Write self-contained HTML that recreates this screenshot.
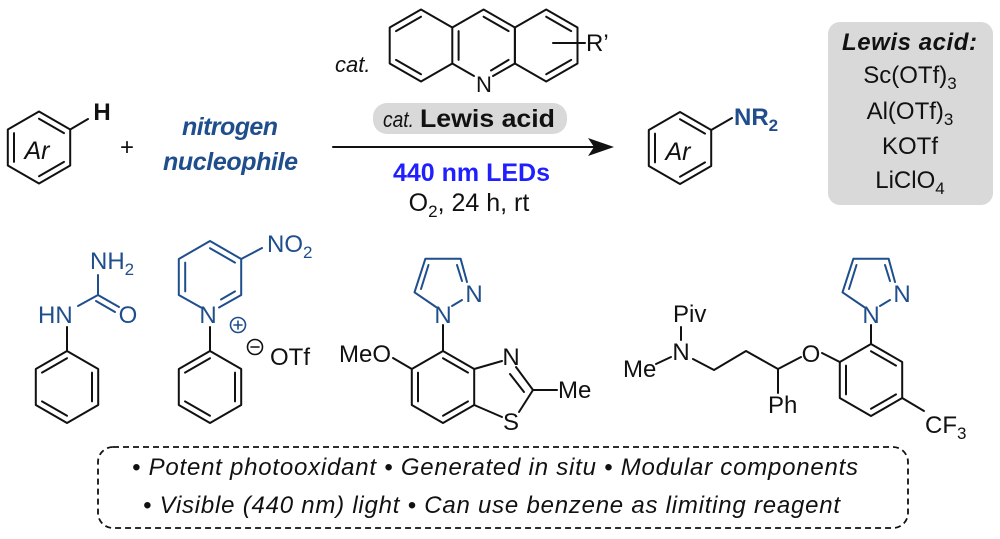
<!DOCTYPE html>
<html><head><meta charset="utf-8"><style>
html,body{margin:0;padding:0;background:#fff;}
svg{display:block;}
text{font-family:"Liberation Sans",Arial,sans-serif;}
</style></head><body>
<svg width="1000" height="539" viewBox="0 0 1000 539" xmlns="http://www.w3.org/2000/svg">
<g stroke="#111" stroke-width="2" fill="none" stroke-linecap="round" stroke-linejoin="round">
<!-- Reactant Ar ring -->
<polygon points="39,111.5 70.2,129.5 70.2,165.5 39,183.5 7.8,165.5 7.8,129.5"/>
<line x1="39" y1="118.7" x2="64" y2="133.1"/>
<line x1="64" y1="161.9" x2="39" y2="176.3"/>
<line x1="14" y1="161.9" x2="14" y2="133.1"/>
<line x1="70.2" y1="129.5" x2="88" y2="119"/>
<!-- Product ring -->
<polygon points="680,112 711.2,130 711.2,166 680,184 648.8,166 648.8,130"/>
<line x1="680" y1="119.2" x2="705" y2="133.6"/>
<line x1="705" y1="162.4" x2="680" y2="176.8"/>
<line x1="655" y1="162.4" x2="655" y2="133.6"/>
<line x1="711.2" y1="130" x2="732" y2="118"/>
<!-- Acridine -->
<polygon points="421,9.5 452.3,27.5 452.3,63.5 421,81.5 389.7,63.5 389.7,27.5"/>
<polyline points="452.3,27.5 483.6,9.5 514.9,27.5 514.9,63.5"/>
<line x1="452.3" y1="63.5" x2="474" y2="76"/>
<line x1="493" y1="76" x2="514.9" y2="63.5"/>
<polygon points="546.2,9.5 577.5,27.5 577.5,63.5 546.2,81.5 514.9,63.5 514.9,27.5"/>
<line x1="396" y1="31.1" x2="421" y2="16.7"/>
<line x1="421" y1="74.3" x2="396" y2="59.9"/>
<line x1="458.6" y1="31.1" x2="458.6" y2="59.9"/>
<line x1="483.6" y1="16.7" x2="508.6" y2="31.1"/>
<line x1="491" y1="70.5" x2="508.6" y2="59.9"/>
<line x1="546.2" y1="16.7" x2="571.2" y2="31.1"/>
<line x1="571.2" y1="59.9" x2="546.2" y2="74.3"/>
<line x1="553" y1="43" x2="585" y2="43"/>
<!-- Arrow -->
<line x1="333" y1="147" x2="600" y2="147"/>
</g>
<polygon points="614,147 588,138 594,147 588,156" fill="#111"/>

<!-- Pill & box -->
<rect x="373" y="103" width="194" height="31" rx="14" fill="#d9d9d9"/>
<rect x="828" y="22" width="165" height="183" rx="12" fill="#d9d9d9"/>

<!-- Top texts -->
<text x="37" y="159" font-size="25" font-style="italic" text-anchor="middle" fill="#111">Ar</text>
<text x="678" y="160" font-size="25" font-style="italic" text-anchor="middle" fill="#111">Ar</text>
<text x="102" y="120" font-size="24" font-weight="bold" text-anchor="middle" fill="#111">H</text>
<text x="127" y="155" font-size="24" text-anchor="middle" fill="#111">+</text>
<text x="182" y="135" font-size="25" font-weight="bold" font-style="italic" fill="#1f4e8c" textLength="96">nitrogen</text>
<text x="163" y="170" font-size="25" font-weight="bold" font-style="italic" fill="#1f4e8c" textLength="135">nucleophile</text>
<text x="734" y="125" font-size="24" font-weight="bold" fill="#1f4e8c">NR<tspan font-size="17" dy="6">2</tspan></text>
<text x="335" y="72" font-size="22" font-style="italic" fill="#111">cat.</text>
<text x="484" y="92" font-size="22" text-anchor="middle" fill="#111">N</text>
<text x="586" y="51" font-size="24" fill="#111">R’</text>
<text x="383" y="127" font-size="22" font-style="italic" fill="#111" textLength="31" lengthAdjust="spacingAndGlyphs">cat.</text>
<text x="420" y="127" font-size="25" font-weight="bold" fill="#111" textLength="135" lengthAdjust="spacingAndGlyphs">Lewis acid</text>
<text x="393" y="181" font-size="25" font-weight="bold" fill="#1f1fff" textLength="157">440 nm LEDs</text>
<text x="469" y="211" font-size="25" text-anchor="middle" fill="#111">O<tspan font-size="17" dy="6">2</tspan><tspan dy="-6">, 24 h, rt</tspan></text>

<!-- Lewis acid list -->
<text x="842" y="50" font-size="24" font-weight="bold" font-style="italic" fill="#111" textLength="135">Lewis acid:</text>
<text x="910" y="83" font-size="24" text-anchor="middle" fill="#111">Sc(OTf)<tspan font-size="17" dy="6">3</tspan></text>
<text x="910" y="119" font-size="24" text-anchor="middle" fill="#111">Al(OTf)<tspan font-size="17" dy="6">3</tspan></text>
<text x="910" y="154" font-size="24" text-anchor="middle" fill="#111">KOTf</text>
<text x="910" y="188" font-size="24" text-anchor="middle" fill="#111">LiClO<tspan font-size="17" dy="6">4</tspan></text>

<!-- Bottom structures -->
<g stroke="#111" stroke-width="2" fill="none" stroke-linecap="round" stroke-linejoin="round">
<polygon points="67,351 98.2,369 98.2,405 67,423 35.8,405 35.8,369"/>
<line x1="92" y1="372.6" x2="92" y2="401.4"/>
<line x1="67" y1="415.8" x2="42" y2="401.4"/>
<line x1="42" y1="372.6" x2="67" y2="358.2"/>
<line x1="67" y1="351" x2="67" y2="327"/>
<polygon points="210,351 241.2,369 241.2,405 210,423 178.8,405 178.8,369"/>
<line x1="235" y1="372.6" x2="235" y2="401.4"/>
<line x1="210" y1="415.8" x2="185" y2="401.4"/>
<line x1="185" y1="372.6" x2="210" y2="358.2"/>
<line x1="210" y1="327" x2="210" y2="351"/>
<circle cx="255" cy="347" r="7.5" stroke-width="1.6"/>
<line x1="251" y1="347" x2="259" y2="347" stroke-width="1.6"/>
<line x1="443" y1="325" x2="443" y2="351"/>
<polygon points="443,351 474.2,369 474.2,405 443,423 411.8,405 411.8,369"/>
<line x1="443" y1="358.2" x2="468" y2="372.6"/>
<line x1="468" y1="401.4" x2="443" y2="415.8"/>
<line x1="418" y1="401.4" x2="418" y2="372.6"/>
<line x1="411.8" y1="369" x2="393" y2="358"/>
<line x1="474.2" y1="369" x2="502" y2="361"/>
<line x1="516" y1="367" x2="533" y2="390"/>
<line x1="510" y1="374" x2="524" y2="392"/>
<line x1="533" y1="390" x2="557" y2="390"/>
<line x1="533" y1="390" x2="519" y2="412"/>
<line x1="502" y1="417" x2="474.2" y2="405"/>
<line x1="871" y1="325" x2="871" y2="344"/>
<polygon points="871,344 902.2,362 902.2,398 871,416 839.8,398 839.8,362"/>
<line x1="871" y1="351.2" x2="896" y2="365.6"/>
<line x1="896" y1="394.4" x2="871" y2="408.8"/>
<line x1="846" y1="394.4" x2="846" y2="365.6"/>
<line x1="902.2" y1="398" x2="924" y2="411"/>
<line x1="839.8" y1="362" x2="822" y2="353"/>
<polyline points="801,357 778,369 746,351 714,370 693,359"/>
<line x1="778" y1="369" x2="778" y2="393"/>
<line x1="681" y1="327" x2="681" y2="340"/>
<line x1="656" y1="364" x2="671" y2="357"/>
</g>

<g stroke="#1f4e8c" stroke-width="2" fill="none" stroke-linecap="round" stroke-linejoin="round">
<line x1="78" y1="306" x2="98" y2="295"/>
<line x1="98" y1="295" x2="119" y2="307"/>
<line x1="96" y1="301" x2="115" y2="312"/>
<line x1="98" y1="295" x2="98" y2="275"/>
<polyline points="201,307.5 178.8,295 178.8,259 210,241 241.2,259 241.2,295 219,307.5"/>
<line x1="185.2" y1="262.6" x2="185.2" y2="291.4"/>
<line x1="210" y1="248.2" x2="235" y2="262.6"/>
<line x1="235" y1="291.4" x2="221" y2="299.5"/>
<line x1="241.2" y1="259" x2="262" y2="248"/>
<circle cx="238" cy="325" r="7.5" stroke-width="1.6"/>
<line x1="234" y1="325" x2="242" y2="325" stroke-width="1.6"/>
<line x1="238" y1="321" x2="238" y2="329" stroke-width="1.6"/>
<polyline points="436,307 414.5,292.3 425.4,258.7 460.6,258.7 467,282"/>
<line x1="421" y1="289" x2="428.5" y2="265"/>
<line x1="457" y1="265" x2="462" y2="281"/>
<line x1="452" y1="306" x2="462" y2="300"/>
<polyline points="864,307 842.5,292.3 853.4,258.7 888.6,258.7 895,282"/>
<line x1="849" y1="289" x2="856.5" y2="265"/>
<line x1="885" y1="265" x2="890" y2="281"/>
<line x1="880" y1="306" x2="890" y2="300"/>
</g>

<g font-size="24" fill="#1f4e8c">
<text x="38" y="323">HN</text>
<text x="128" y="323" text-anchor="middle">O</text>
<text x="90" y="269">NH<tspan font-size="17" dy="6">2</tspan></text>
<text x="267" y="252">NO<tspan font-size="17" dy="6">2</tspan></text>
<text x="208" y="323" text-anchor="middle">N</text>
<text x="443" y="323" text-anchor="middle">N</text>
<text x="474" y="302" text-anchor="middle">N</text>
<text x="871" y="323" text-anchor="middle">N</text>
<text x="902" y="302" text-anchor="middle">N</text>
</g>
<g font-size="24" fill="#111">
<text x="270" y="365">OTf</text>
<text x="391" y="362" text-anchor="end">MeO</text>
<text x="511" y="365" text-anchor="middle">N</text>
<text x="511" y="430" text-anchor="middle">S</text>
<text x="558" y="398">Me</text>
<text x="811" y="362" text-anchor="middle">O</text>
<text x="768" y="413">Ph</text>
<text x="681" y="360" text-anchor="middle">N</text>
<text x="673" y="322">Piv</text>
<text x="623" y="377">Me</text>
<text x="925" y="433">CF<tspan font-size="17" dy="6">3</tspan></text>
</g>

<rect x="98" y="447" width="810" height="81" rx="15" fill="none" stroke="#111" stroke-width="1.8" stroke-dasharray="6 4"/>
<text x="132" y="475" font-size="24" font-style="italic" fill="#111" textLength="726">• Potent photooxidant  • Generated in situ  • Modular components</text>
<text x="143" y="513" font-size="24" font-style="italic" fill="#111" textLength="697">• Visible (440 nm) light  • Can use benzene as limiting reagent</text>
</svg>
</body></html>
